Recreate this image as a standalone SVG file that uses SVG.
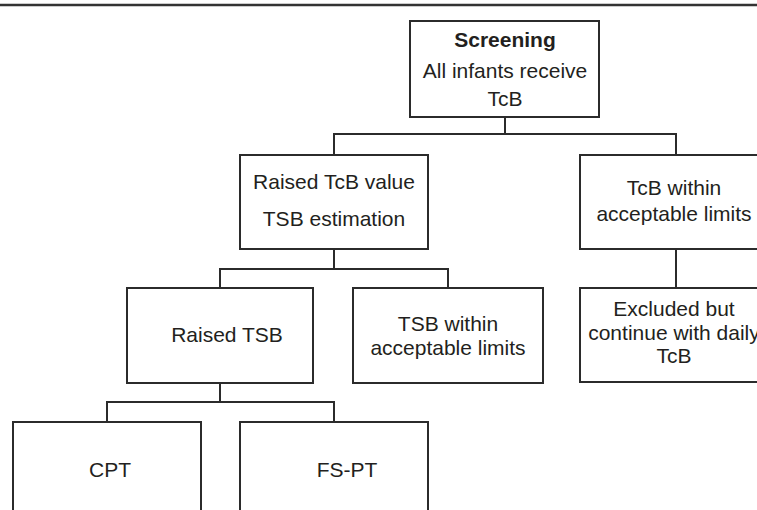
<svg xmlns="http://www.w3.org/2000/svg" width="757" height="510" viewBox="0 0 757 510">
<style>
.box{fill:#fff;stroke:#2b2b2b;stroke-width:2}
.ln{fill:none;stroke:#2b2b2b;stroke-width:2}
text{font-family:"Liberation Sans",Arial,sans-serif;font-size:21px;fill:#231f20;text-anchor:middle}
.b{font-weight:bold}
</style>
<rect width="757" height="510" fill="#fff"/>
<line x1="0" y1="5" x2="757" y2="5" stroke="#333" stroke-width="2.5"/>
<g id="connectors">
<path class="ln" d="M505 117V134M334 155V134H676V155"/>
<path class="ln" d="M334 249V269M220 288V269H448V288"/>
<path class="ln" d="M676 249V288"/>
<path class="ln" d="M220 383V402M107 422V402H334V422"/>
</g>
<g id="screening">
<rect class="box" x="410" y="21" width="189" height="96"/>
<text class="b" x="505" y="47">Screening</text>
<text x="505" y="78">All infants receive</text>
<text x="505" y="106">TcB</text>
</g>
<g id="raised-tcb">
<rect class="box" x="240" y="155" width="188" height="94"/>
<text x="334" y="189">Raised TcB value</text>
<text x="334" y="226">TSB estimation</text>
</g>
<g id="tcb-within">
<rect class="box" x="580" y="155" width="192" height="94"/>
<text x="674" y="195">TcB within</text>
<text x="674" y="221">acceptable limits</text>
</g>
<g id="raised-tsb">
<rect class="box" x="127" y="288" width="186" height="95"/>
<text x="227" y="342">Raised TSB</text>
</g>
<g id="tsb-within">
<rect class="box" x="353" y="288" width="190" height="95"/>
<text x="448" y="331">TSB within</text>
<text x="448" y="355">acceptable limits</text>
</g>
<g id="excluded">
<rect class="box" x="580" y="288" width="192" height="94"/>
<text x="674" y="316">Excluded but</text>
<text x="674" y="340">continue with daily</text>
<text x="674" y="363">TcB</text>
</g>
<g id="cpt">
<rect class="box" x="13" y="422" width="188" height="100"/>
<text x="110" y="477">CPT</text>
</g>
<g id="fs-pt">
<rect class="box" x="240" y="422" width="188" height="100"/>
<text x="347" y="477">FS-PT</text>
</g>
</svg>
